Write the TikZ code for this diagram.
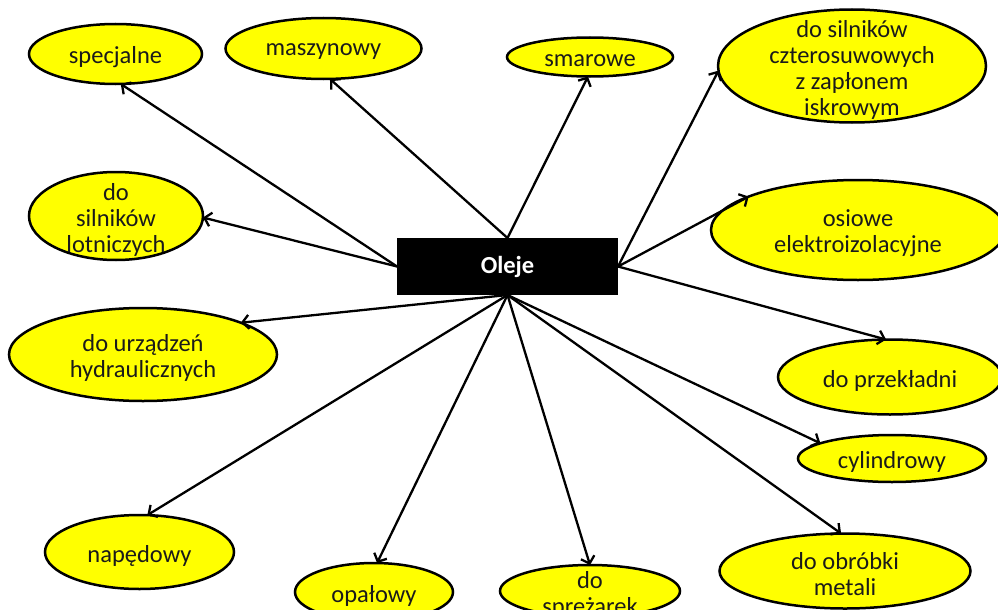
\documentclass[tikz,border=0pt]{standalone}
\usepackage{fontspec}
\setmainfont{Carlito}
\usetikzlibrary{shapes.geometric,arrows.meta}
\definecolor{leafyellow}{HTML}{FFFF00}
\definecolor{inktext}{HTML}{1A1A1A}
\begin{document}
\begin{tikzpicture}[x=1pt,y=-1pt,
  leaf/.style={ellipse, draw=black, line width=2.5pt, fill=leafyellow,
    inner sep=0pt, outer sep=0pt},
  leaftext/.style={align=center, inner sep=0pt, yshift=-3.5pt,
    font=\fontsize{24.5}{26}\selectfont, text=inktext},
  hub/.style={rectangle, fill=black, minimum width=221pt, minimum height=57pt,
    inner sep=0pt, outer sep=0pt, text=white,
    font=\bfseries\fontsize{24.5}{26}\selectfont},
  link/.style={line width=2.3pt, -{Straight Barb[length=6.5pt,width=14pt]}}]
\useasboundingbox (0,0) rectangle (998,610);

% central box
\node[hub] (hub) at (507.5,266.5) {Oleje};

% oil types
\node[leaf, minimum width=173pt, minimum height=60pt,
  label={[leaftext]center:specjalne}] (spec) at (115.5,54) {};
\node[leaf, minimum width=196pt, minimum height=61pt,
  label={[leaftext]center:maszynowy}] (masz) at (323.5,48.5) {};
\node[leaf, minimum width=166pt, minimum height=39pt,
  label={[leaftext]center:smarowe}] (smar) at (590,57) {};
\node[leaf, minimum width=268pt, minimum height=113pt,
  label={[leaftext]center:{do silników\\czterosuwowych\\z zapłonem\\iskrowym}}] (czter) at (852,66) {};
\node[leaf, minimum width=174pt, minimum height=88pt,
  label={[leaftext]center:{do\\silników\\lotniczych}}] (lot) at (116,216) {};
\node[leaf, minimum width=294pt, minimum height=100pt,
  label={[leaftext]center:{osiowe\\elektroizolacyjne}}] (osi) at (858,230) {};
\node[leaf, minimum width=268pt, minimum height=93pt,
  label={[leaftext]center:{do urządzeń\\hydraulicznych}}] (hyd) at (143,354.5) {};
\node[leaf, minimum width=224pt, minimum height=75pt,
  label={[leaftext]center:do przekładni}] (prz) at (890,377) {};
\node[leaf, minimum width=188pt, minimum height=47pt,
  label={[leaftext]center:cylindrowy}] (cyl) at (892,458.5) {};
\node[leaf, minimum width=189pt, minimum height=74pt,
  label={[leaftext]center:napędowy}] (nap) at (139.5,552) {};
\node[leaf, minimum width=158pt, minimum height=58pt,
  label={[leaftext]center:opałowy}] (opa) at (374,592) {};
\node[leaf, minimum width=180pt, minimum height=52pt,
  label={[leaftext]center:{do\\sprężarek}}] (spr) at (590,591) {};
\node[leaf, minimum width=251pt, minimum height=75pt,
  label={[leaftext]center:{do obróbki\\metali}}] (obr) at (845,571) {};

% connectors
\draw[link] (hub.west) -- (spec.-80);
\draw[link] (hub.west) -- (lot.-1);
\draw[link] (hub.north) -- (masz.-78);
\draw[link] (hub.north) -- (smar.-96);
\draw[link] (hub.east) -- (czter.182);
\draw[link] (hub.east) -- (osi.163);
\draw[link] (hub.east) -- (prz.96);
\draw[link] (hub.south) -- (cyl.168);
\draw[link] (hub.south) -- (obr.96);
\draw[link] (hub.south) -- (spr.90);
\draw[link] (hub.south) -- (opa.84);
\draw[link] (hub.south) -- (nap.78);
\draw[link] (hub.south) -- (hyd.18);
\end{tikzpicture}
\end{document}
